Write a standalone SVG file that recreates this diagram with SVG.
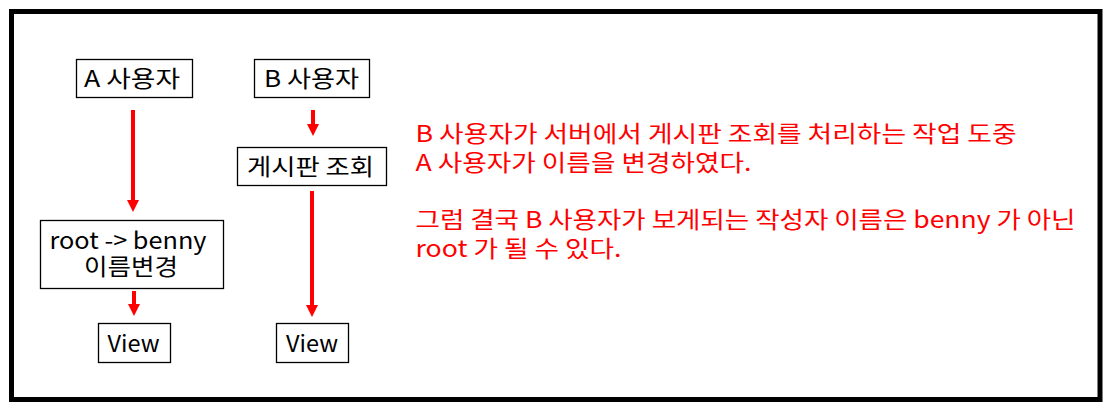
<svg xmlns="http://www.w3.org/2000/svg" width="1109" height="408" viewBox="0 0 1109 408">
<style>
.box{fill:#fff;stroke:#000;stroke-width:1.3}
.t{font-family:"Noto Sans CJK KR","Noto Sans",sans-serif;font-size:23px;fill:#000}
.c{text-anchor:middle}
.r{font-family:"Noto Sans CJK KR","Noto Sans",sans-serif;font-size:23px;fill:#ff0000}
.arr{stroke:#ff0000;stroke-width:4;fill:none;marker-end:url(#ah)}
</style>
<defs>
<marker id="ah" markerUnits="userSpaceOnUse" markerWidth="12" markerHeight="12" refX="0" refY="6" orient="auto">
<path d="M0,0 L12,6 L0,12 z" fill="#ff0000"/>
</marker>
</defs>
<rect x="0" y="0" width="1109" height="408" fill="#fff"/>
<rect x="11.5" y="11.5" width="1088.5" height="388" fill="none" stroke="#000" stroke-width="5"/>
<g id="connectors">
<line class="arr" x1="133" y1="110" x2="133" y2="200"/>
<line class="arr" x1="313" y1="110" x2="313" y2="124"/>
<line class="arr" x1="312" y1="191" x2="312" y2="305"/>
<line class="arr" x1="134" y1="291" x2="134" y2="304"/>
</g>
<g id="nodeA">
<rect class="box" x="76.5" y="59.5" width="116" height="38"/>
<text class="t c" x="132" y="87" textLength="96" lengthAdjust="spacingAndGlyphs">A 사용자</text>
</g>
<g id="nodeB">
<rect class="box" x="254.5" y="59.5" width="115" height="38"/>
<text class="t c" x="311.5" y="87" textLength="95" lengthAdjust="spacingAndGlyphs">B 사용자</text>
</g>
<g id="nodeBoard">
<rect class="box" x="237.5" y="147.5" width="149" height="38"/>
<text class="t c" x="310.5" y="175" textLength="127" lengthAdjust="spacingAndGlyphs">게시판 조회</text>
</g>
<g id="nodeRename">
<rect class="box" x="40.5" y="220.5" width="183" height="68"/>
<text class="t" x="49.5" y="249" textLength="157" lengthAdjust="spacingAndGlyphs">root -&gt; benny</text>
<text class="t c" x="131" y="275" textLength="94" lengthAdjust="spacingAndGlyphs">이름변경</text>
</g>
<g id="nodeViewA">
<rect class="box" x="98.5" y="323.5" width="72" height="39"/>
<text class="t c" x="133.5" y="352" textLength="52" lengthAdjust="spacingAndGlyphs">View</text>
</g>
<g id="nodeViewB">
<rect class="box" x="276.5" y="323.5" width="72" height="39"/>
<text class="t c" x="312" y="352" textLength="52" lengthAdjust="spacingAndGlyphs">View</text>
</g>
<g id="note">
<text class="r" x="415.5" y="142" textLength="601" lengthAdjust="spacingAndGlyphs">B 사용자가 서버에서 게시판 조회를 처리하는 작업 도중</text>
<text class="r" x="415.5" y="171" textLength="336" lengthAdjust="spacingAndGlyphs">A 사용자가 이름을 변경하였다.</text>
<text class="r" x="415.5" y="228" textLength="660" lengthAdjust="spacingAndGlyphs">그럼 결국 B 사용자가 보게되는 작성자 이름은 benny 가 아닌</text>
<text class="r" x="415.5" y="257" textLength="206" lengthAdjust="spacingAndGlyphs">root 가 될 수 있다.</text>
</g>
</svg>
